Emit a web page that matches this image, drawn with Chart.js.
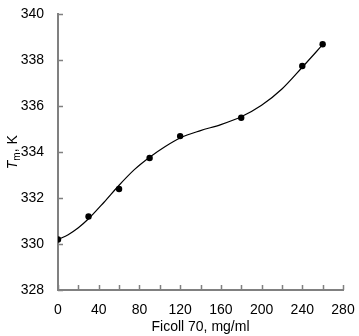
<!DOCTYPE html>
<html>
<head>
<meta charset="utf-8">
<script src="https://cdn.jsdelivr.net/npm/chart.js@4"></script>
<style>
  html, body { margin: 0; padding: 0; background: #fff; }
  #wrap { width: 359px; height: 336px; }
</style>
</head>
<body>
<div id="wrap"><canvas id="tmChart"></canvas></div>
<script>
// Ficoll 70 concentration (mg/ml) and measured melting temperature Tm (K)
const ficoll = [0, 30, 60, 90, 120, 180, 240, 260];
const tm = [330.2, 331.2, 332.4, 333.75, 334.7, 335.5, 337.75, 338.7];
// smooth fitted curve through the measurements
const fitX = [0, 10, 20, 30, 45, 60, 75, 90, 105, 120, 140, 160, 180, 200, 220, 240, 260];
const fitY = [330.2, 330.41, 330.71, 331.1, 331.81, 332.56, 333.24, 333.78, 334.24, 334.62, 334.94, 335.2, 335.54, 336.04, 336.75, 337.7, 338.68];
const xTicks = [0, 20, 40, 60, 80, 100, 120, 140, 160, 180, 200, 220, 240, 260, 280];
const yTicks = [328, 330, 332, 334, 336, 338, 340];

const FONT = 'Liberation Sans, Arial, sans-serif';
const AXIS = '#808080';

// tick marks point into the plot, so they are drawn here instead of by the grid
const innerTicks = {
    id: 'innerTicks',
    afterDraw(chart) {
        const ctx = chart.ctx;
        const { x, y } = chart.scales;
        ctx.save();
        ctx.strokeStyle = AXIS;
        ctx.lineWidth = 1.5;
        ctx.beginPath();
        xTicks.forEach(v => {
            const px = Math.round(x.getPixelForValue(v)) + 0.5;
            ctx.moveTo(px, y.bottom);
            ctx.lineTo(px, y.bottom - 5);
        });
        yTicks.forEach(v => {
            const py = Math.round(y.getPixelForValue(v)) + 0.5;
            ctx.moveTo(x.left, py);
            ctx.lineTo(x.left + 5, py);
        });
        ctx.stroke();

        // y title: italic T with subscript m
        ctx.fillStyle = '#000';
        ctx.textBaseline = 'middle';
        ctx.translate(13, (y.top + y.bottom) / 2);
        ctx.rotate(-Math.PI / 2);
        ctx.font = 'italic 14px ' + FONT;
        const wT = ctx.measureText('T').width;
        ctx.font = '10px ' + FONT;
        const wm = ctx.measureText('m').width;
        ctx.font = '14px ' + FONT;
        const wK = ctx.measureText(', K').width;
        let cx = -(wT + wm + wK) / 2;
        ctx.font = 'italic 14px ' + FONT;
        ctx.fillText('T', cx, 0);
        cx += wT;
        ctx.font = '10px ' + FONT;
        ctx.fillText('m', cx, 4);
        cx += wm;
        ctx.font = '14px ' + FONT;
        ctx.fillText(', K', cx, 0);
        ctx.restore();
    }
};

new Chart(document.getElementById('tmChart'), {
    type: 'scatter',
    data: {
        datasets: [{
            data: ficoll.map((f, i) => ({ x: f, y: tm[i] })),
            showLine: false,
            pointRadius: 3.2,
            pointBackgroundColor: '#000',
            pointBorderWidth: 0
        }, {
            data: fitX.map((f, i) => ({ x: f, y: fitY[i] })),
            showLine: true,
            cubicInterpolationMode: 'monotone',
            borderColor: '#000',
            borderWidth: 1.2,
            pointRadius: 0
        }]
    },
    options: {
        responsive: true,
        maintainAspectRatio: false,
        animation: false,
        layout: { padding: { top: 5, right: 16, left: 0, bottom: 0 } },
        plugins: { legend: { display: false }, tooltip: { enabled: false } },
        scales: {
            x: {
                type: 'linear',
                min: 0,
                max: 280,
                afterFit(s) { s.height = 46; },
                afterBuildTicks(s) { s.ticks = xTicks.map(v => ({ value: v })); },
                grid: { display: false },
                border: { color: AXIS, width: 2 },
                ticks: {
                    color: '#000',
                    font: { family: FONT, size: 14 },
                    padding: 4,
                    maxRotation: 0,
                    autoSkip: false,
                    callback: v => (v % 40 === 0 ? String(v) : '')
                },
                title: {
                    display: true,
                    text: 'Ficoll 70, mg/ml',
                    color: '#000',
                    font: { family: FONT, size: 14 },
                    padding: { top: 2, bottom: 0 }
                }
            },
            y: {
                min: 328,
                max: 340,
                afterFit(s) { s.width = 58; },
                afterBuildTicks(s) { s.ticks = yTicks.map(v => ({ value: v })); },
                grid: { display: false },
                border: { color: AXIS, width: 2 },
                ticks: {
                    color: '#000',
                    font: { family: FONT, size: 14 },
                    padding: 6
                }
            }
        }
    },
    plugins: [innerTicks]
});
</script>
</body>
</html>
